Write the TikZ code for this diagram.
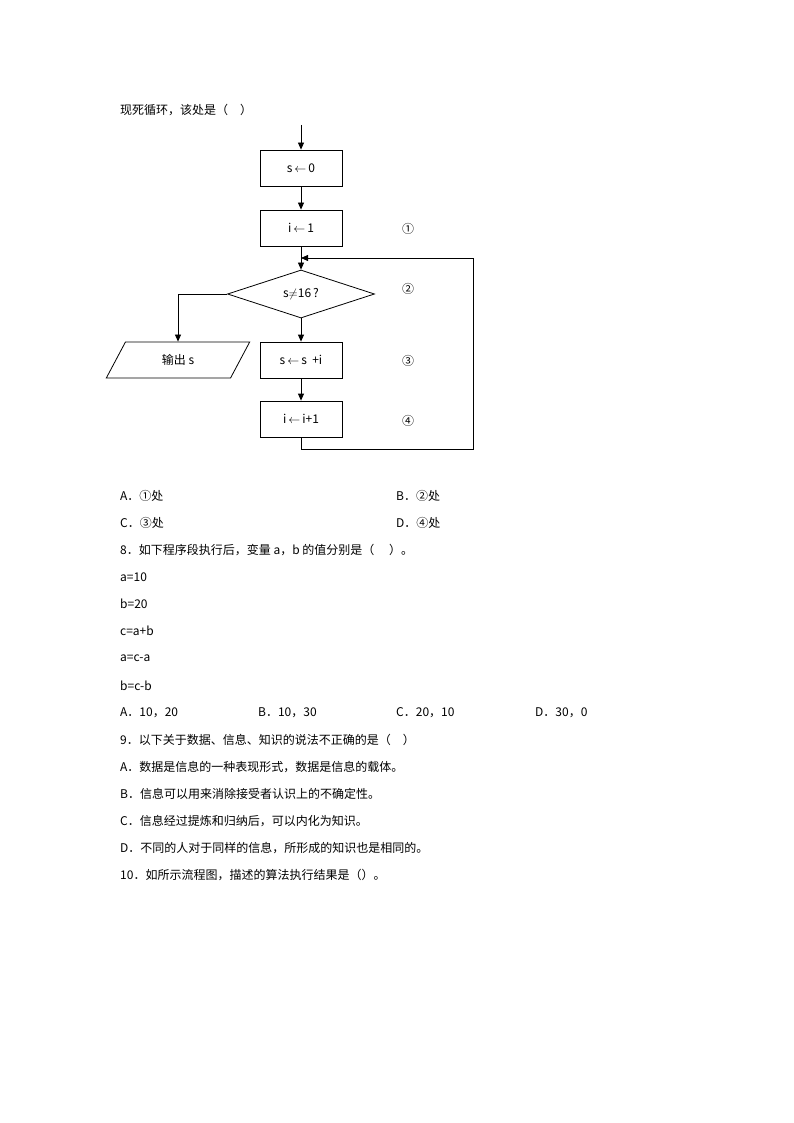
\documentclass[tikz,border=0pt]{standalone}
\usepackage{fontspec}
\setmainfont{Noto Sans CJK SC}
\usetikzlibrary{shapes.geometric,arrows.meta,positioning}

\begin{document}
\begin{tikzpicture}[
            x=1pt, y=-1pt,
            font=\fontsize{12}{14}\selectfont,
            procbox/.style={rectangle, draw, thick, minimum width=82pt, minimum height=36pt, inner sep=0pt},
            decision/.style={diamond, draw, thick, aspect=3.06, minimum width=147pt, minimum height=48pt, inner sep=0pt},
            iobox/.style={trapezium, trapezium left angle=62, trapezium right angle=118, draw, thick, minimum width=115pt, minimum height=36pt, inner sep=0pt},
            txt/.style={anchor=west, inner sep=0pt},
            arrow/.style={-{Triangle[length=7pt,width=6pt]}, thick}
        ]
            \useasboundingbox (0,0) rectangle (794,1123);
            % Flowchart
            \coordinate (entry) at (301,125);
            \node[procbox] (init) at (301,168) {s\,$\leftarrow$\,0};
            \node[procbox] (seti) at (301,228) {i\,$\leftarrow$\,1};
            \node[decision] (test) at (301,294) {s$\neq$16\,?};
            \node[procbox] (add) at (301,360) {s\,$\leftarrow$\,s\ \ +i};
            \node[procbox] (inc) at (301,419) {i\,$\leftarrow$\,i+1};
            \node[iobox] (out) at (178,360) {输出 s};
            \coordinate (back) at (301,258);
            \node (m1) at (408,229) {①};
            \node (m2) at (408,289) {②};
            \node (m3) at (408,361) {③};
            \node (m4) at (408,421) {④};
            
            % Arrows
            \draw[arrow] (entry) -- (init);
            \draw[arrow] (init) -- (seti);
            \draw[thick] (seti) -- (back);
            \draw[arrow] (back) -- (test);
            \draw[arrow] (test) -- (add);
            \draw[arrow] (add) -- (inc);
            \draw[arrow] (test.west) -| (out.north);
            \draw[arrow] (inc.south) -- ++(0,12) -| (473,258) -- (back);
            
            % Text
            \node[txt] (q7) at (120,110) {现死循环，该处是（\quad）};
            \node[txt] (q7a) at (120,496) {A．①处};
            \node[txt] (q7b) at (396,496) {B．②处};
            \node[txt] (q7c) at (120,523) {C．③处};
            \node[txt] (q7d) at (396,523) {D．④处};
            \node[txt] (q8) at (120,550) {8．如下程序段执行后，变量 a，b 的值分别是（\quad\ ）。};
            \node[txt] (l1) at (120,577) {a=10};
            \node[txt] (l2) at (120,604) {b=20};
            \node[txt] (l3) at (120,631) {c=a+b};
            \node[txt] (l4) at (120,658) {a=c-a};
            \node[txt] (l5) at (120,686) {b=c-b};
            \node[txt] (q8a) at (120,713) {A．10，20};
            \node[txt] (q8b) at (258,713) {B．10，30};
            \node[txt] (q8c) at (396,713) {C．20，10};
            \node[txt] (q8d) at (535,713) {D．30，0};
            \node[txt] (q9) at (120,740) {9．以下关于数据、信息、知识的说法不正确的是（\quad）};
            \node[txt] (q9a) at (120,767) {A．数据是信息的一种表现形式，数据是信息的载体。};
            \node[txt] (q9b) at (120,794) {B．信息可以用来消除接受者认识上的不确定性。};
            \node[txt] (q9c) at (120,821) {C．信息经过提炼和归纳后，可以内化为知识。};
            \node[txt] (q9d) at (120,848) {D．不同的人对于同样的信息，所形成的知识也是相同的。};
            \node[txt] (q10) at (120,875) {10．如所示流程图，描述的算法执行结果是（）。};
        \end{tikzpicture}
\end{document}
